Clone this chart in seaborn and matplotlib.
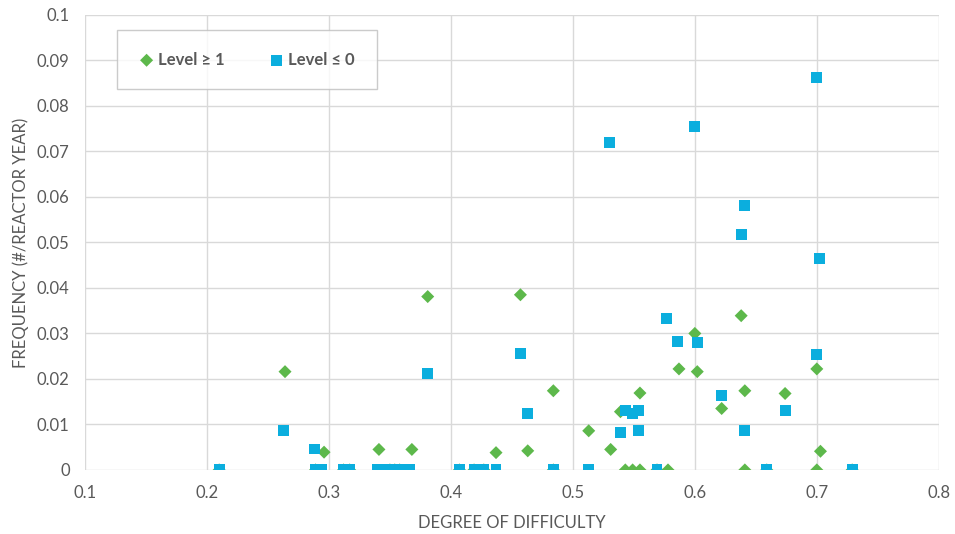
import matplotlib
matplotlib.use('Agg')
import matplotlib.pyplot as plt
import seaborn as sns
import pandas as pd
from matplotlib.ticker import MultipleLocator, FuncFormatter

# Level >= 1 (green diamonds)
hi_x = [0.264, 0.296, 0.341, 0.368, 0.381, 0.437, 0.457, 0.463, 0.484, 0.513,
        0.531, 0.539, 0.555, 0.587, 0.600, 0.602, 0.622, 0.638, 0.641, 0.674,
        0.700, 0.703,
        0.210, 0.289, 0.312, 0.317, 0.350, 0.354, 0.358, 0.407, 0.419, 0.427,
        0.484, 0.543, 0.549, 0.555, 0.569, 0.578, 0.641, 0.659, 0.700, 0.729]
hi_y = [0.0216, 0.0039, 0.0045, 0.0045, 0.0381, 0.0038, 0.0385, 0.0042, 0.0174, 0.0086,
        0.0045, 0.0128, 0.0169, 0.0222, 0.0300, 0.0216, 0.0135, 0.0339, 0.0174, 0.0168,
        0.0222, 0.0041,
        0, 0, 0, 0, 0, 0, 0, 0, 0, 0,
        0, 0, 0, 0, 0, 0, 0, 0, 0, 0]

# Level <= 0 (blue squares)
lo_x = [0.263, 0.288, 0.381, 0.457, 0.463, 0.530, 0.539, 0.543, 0.549, 0.554,
        0.554, 0.577, 0.586, 0.600, 0.602, 0.622, 0.638, 0.641, 0.641, 0.674,
        0.700, 0.700, 0.702,
        0.210, 0.289, 0.294, 0.312, 0.317, 0.340, 0.347, 0.354, 0.360, 0.366,
        0.407, 0.419, 0.427, 0.437, 0.484, 0.513, 0.569, 0.659, 0.729]
lo_y = [0.0086, 0.0046, 0.0211, 0.0256, 0.0125, 0.0719, 0.0082, 0.0130, 0.0125, 0.0130,
        0.0086, 0.0332, 0.0283, 0.0755, 0.0281, 0.0163, 0.0518, 0.0581, 0.0086, 0.0130,
        0.0863, 0.0253, 0.0464,
        0, 0, 0, 0, 0, 0, 0, 0, 0, 0,
        0, 0, 0, 0, 0, 0, 0, 0, 0]

hi = pd.DataFrame({'difficulty': hi_x, 'frequency': hi_y})
lo = pd.DataFrame({'difficulty': lo_x, 'frequency': lo_y})

sns.set_style('white')
plt.rcParams['font.family'] = ['Lato', 'DejaVu Sans']

grey = '#595959'
green = '#5DB84B'
blue = '#0BAEDE'

fig = plt.figure(figsize=(9.55, 5.34), dpi=100)
ax = fig.add_axes([0.089, 0.12, 0.894, 0.852])

sns.scatterplot(data=hi, x='difficulty', y='frequency', marker='D', s=44,
                color=green, edgecolor='none', label='Level \u2265 1', ax=ax, zorder=3)
sns.scatterplot(data=lo, x='difficulty', y='frequency', marker='s', s=62,
                color=blue, edgecolor='none', label='Level \u2264 0', ax=ax, zorder=4)

ax.set_xlim(0.1, 0.8)
ax.set_ylim(0, 0.1)
ax.xaxis.set_major_locator(MultipleLocator(0.1))
ax.yaxis.set_major_locator(MultipleLocator(0.01))
fmt = FuncFormatter(lambda v, p: '{:g}'.format(round(v, 3)))
ax.xaxis.set_major_formatter(fmt)
ax.yaxis.set_major_formatter(fmt)

ax.grid(True, color='#D9D9D9', linewidth=1)
ax.set_axisbelow(True)
for s in ax.spines.values():
    s.set_visible(False)
ax.tick_params(length=0, labelsize=12, labelcolor=grey, pad=11)

ax.set_xlabel('DEGREE OF DIFFICULTY', fontsize=12, color=grey, labelpad=10)
ax.set_ylabel('FREQUENCY (#/REACTOR YEAR)', fontsize=12, color=grey, labelpad=6)

leg = ax.legend(loc='upper left', bbox_to_anchor=(0.037, 0.967), ncol=2,
                frameon=True, fancybox=False, edgecolor='#BFBFBF',
                borderpad=1.3, handletextpad=0.2, columnspacing=2.6,
                handlelength=1.0, borderaxespad=0,
                prop={'weight': 'bold', 'size': 12})
leg.get_frame().set_linewidth(1)
for t in leg.get_texts():
    t.set_color(grey)

fig.savefig('out.png', dpi=100)
